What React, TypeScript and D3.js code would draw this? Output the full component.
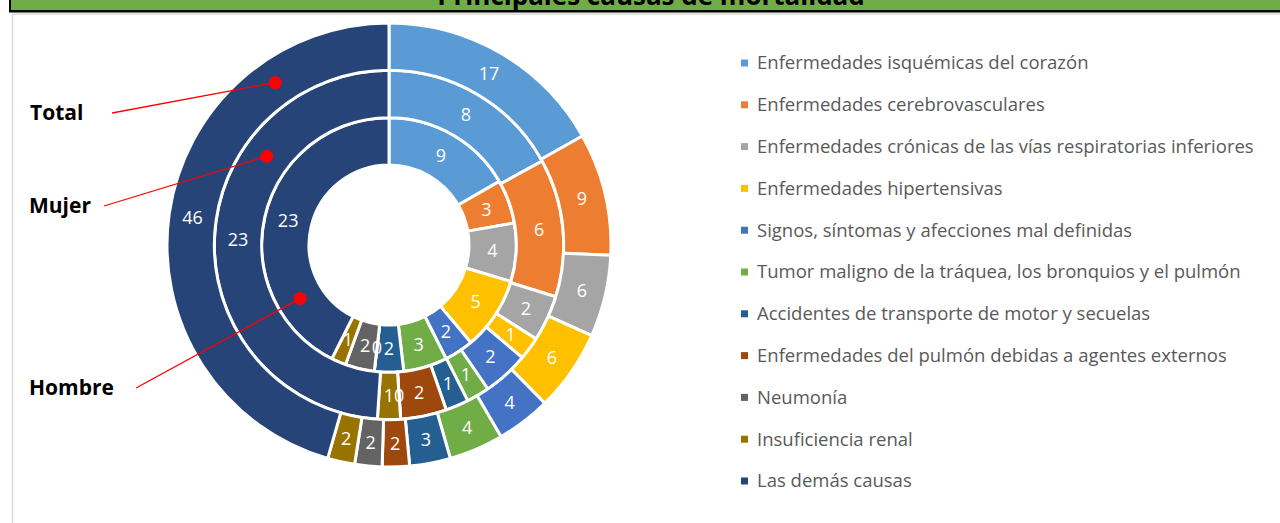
import * as d3 from "d3";

const causes = [
  "Enfermedades isquémicas del corazón",
  "Enfermedades cerebrovasculares",
  "Enfermedades crónicas de las vías respiratorias inferiores",
  "Enfermedades hipertensivas",
  "Signos, síntomas y afecciones mal definidas",
  "Tumor maligno de la tráquea, los bronquios y el pulmón",
  "Accidentes de transporte de motor y secuelas",
  "Enfermedades del pulmón debidas a agentes externos",
  "Neumonía",
  "Insuficiencia renal",
  "Las demás causas",
];

const colors = [
  "#5B9BD5", "#ED7D31", "#A5A5A5", "#FFC000", "#4472C4", "#70AD47",
  "#255E91", "#9E480E", "#636363", "#997300", "#264478",
];

// rings from the centre outwards
const hombre = [9, 3, 4, 5, 2, 3, 2, 0, 2, 1, 23];
const mujer = [8, 6, 2, 1, 2, 1, 1, 2, 0, 1, 23];
const total = [17, 9, 6, 6, 4, 4, 3, 2, 2, 2, 46];

const ringNames = ["Hombre", "Mujer", "Total"];
const ringValues = [hombre, mujer, total];
// callout angle (degrees, clockwise from 12 o'clock) for each ring name
const calloutAngles = [239, 306, 325];
const calloutText = [
  { x: 29, y: 388, lineX: 136 },
  { x: 29, y: 206, lineX: 104 },
  { x: 30, y: 113, lineX: 112 },
];

const title = "Principales causas de mortalidad";

const W = 1280;
const H = 523;
const cx = 389;
const cy = 245;
const innerR = 80;
const outerR = 222;

export default function App() {
  const ring = d3
    .scaleBand<number>()
    .domain(d3.range(ringValues.length))
    .range([innerR, outerR])
    .paddingInner(0);

  const pie = d3.pie<number>().sort(null).value((d) => d);

  const legendY = d3
    .scalePoint<number>()
    .domain(d3.range(causes.length))
    .range([63, 481]);

  const font = "'Open Sans', sans-serif";

  return (
    <svg
      width={W}
      height={H}
      style={{ position: "fixed", left: 0, top: 0, background: "#fff" }}
      fontFamily={font}
    >
      {/* header band (title runs off the top, as in the source) */}
      <rect x={11} y={0} width={W - 11} height={10} fill="#70AD47" />
      <rect x={9} y={0} width={2} height={12} fill="#000" />
      <rect x={9} y={10} width={W - 9} height={2.5} fill="#000" />
      <text x={651} y={5} textAnchor="middle" fontSize={26} fontWeight="bold" fill="#000">
        {title}
      </text>
      {/* chart area border */}
      <line x1={12} y1={14} x2={W} y2={14} stroke="#D9D9D9" strokeWidth={1.5} />
      <line x1={12.5} y1={14} x2={12.5} y2={H} stroke="#D9D9D9" strokeWidth={1.5} />

      <g transform={`translate(${cx},${cy})`}>
        {ringValues.map((vals, ri) => {
          const r0 = ring(ri)!;
          const r1 = r0 + ring.bandwidth();
          const arc = d3.arc<d3.PieArcDatum<number>>().innerRadius(r0).outerRadius(r1);
          const arcs = pie(vals);
          return (
            <g key={ri}>
              {arcs.map((a, i) => (
                <path
                  key={i}
                  d={arc(a) || ""}
                  fill={colors[i]}
                  stroke="#fff"
                  strokeWidth={3}
                  strokeLinejoin="miter"
                />
              ))}
              {arcs.map((a, i) => {
                const [lx, ly] = arc.centroid(a);
                return (
                  <text
                    key={"l" + i}
                    x={lx}
                    y={ly}
                    dy="0.35em"
                    textAnchor="middle"
                    fontSize={18}
                    fill="#fff"
                  >
                    {vals[i]}
                  </text>
                );
              })}
            </g>
          );
        })}
      </g>

      {/* ring name callouts */}
      {ringNames.map((name, ri) => {
        const rMid = ring(ri)! + ring.bandwidth() / 2;
        const ang = (calloutAngles[ri] * Math.PI) / 180;
        const dx = cx + rMid * Math.sin(ang);
        const dy = cy - rMid * Math.cos(ang);
        const t = calloutText[ri];
        return (
          <g key={name}>
            <line x1={t.lineX} y1={t.y} x2={dx} y2={dy} stroke="#FF0000" strokeWidth={1.3} />
            <circle cx={dx} cy={dy} r={6.5} fill="#FF0000" />
            <text x={t.x} y={t.y} dy="0.35em" fontSize={21} fontWeight="bold" fill="#000">
              {name}
            </text>
          </g>
        );
      })}

      {/* legend */}
      {causes.map((c, i) => (
        <g key={c} transform={`translate(741,${legendY(i)})`}>
          <rect x={0} y={-3.5} width={7} height={7} fill={colors[i]} />
          <text x={16} y={0} dy="0.35em" fontSize={18.5} fill="#595959">
            {c}
          </text>
        </g>
      ))}
    </svg>
  );
}
